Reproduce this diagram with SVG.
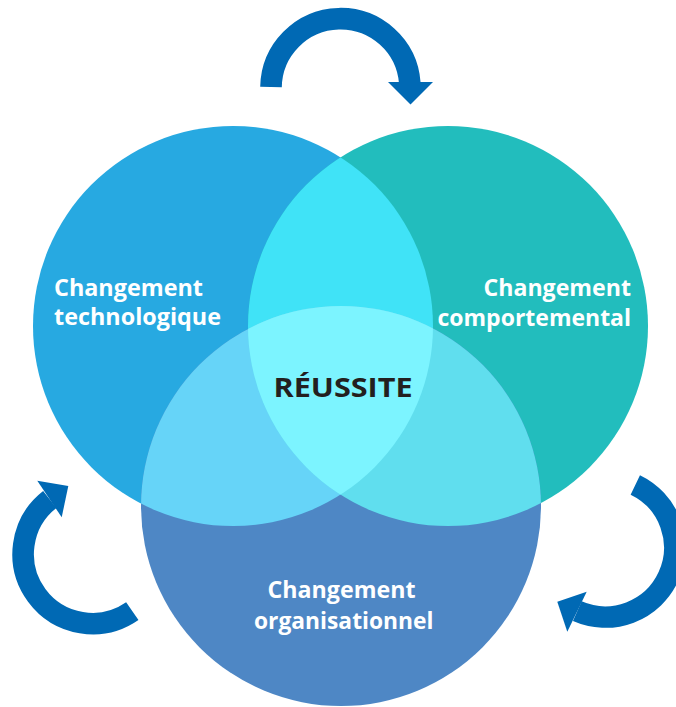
<svg xmlns="http://www.w3.org/2000/svg" width="676" height="707" viewBox="0 0 676 707">
  <style>
    .lbl { font-family: "Open Sans", "Liberation Sans", sans-serif; font-weight: 700; font-size: 22.5px; fill: #ffffff; }
    .ctr { font-family: "Open Sans", "Liberation Sans", sans-serif; font-weight: 700; font-size: 26px; fill: #231f20; }
    .arc { fill: none; stroke: #0069b4; stroke-width: 21.6; stroke-linecap: butt; }
    .head { fill: #0069b4; }
  </style>
  <defs>
    <clipPath id="cL"><circle cx="233" cy="326" r="200"/></clipPath>
    <clipPath id="cR"><circle cx="448" cy="326" r="200"/></clipPath>
    <clipPath id="cB"><circle cx="341" cy="506" r="200"/></clipPath>
  </defs>

  <g id="tech">
    <circle cx="233" cy="326" r="200" fill="#27a9e1"/>
  </g>
  <g id="comport">
    <circle cx="448" cy="326" r="200" fill="#22bdbd"/>
  </g>
  <g id="orga">
    <circle cx="341" cy="506" r="200" fill="#4e87c5"/>
  </g>
  <g id="overlaps">
    <g clip-path="url(#cL)"><circle cx="448" cy="326" r="200" fill="#40e3f7"/></g>
    <g clip-path="url(#cL)"><circle cx="341" cy="506" r="200" fill="#66d4f8"/></g>
    <g clip-path="url(#cR)"><circle cx="341" cy="506" r="200" fill="#60deee"/></g>
    <g clip-path="url(#cL)"><g clip-path="url(#cR)"><circle cx="341" cy="506" r="200" fill="#7cf4ff"/></g></g>
  </g>

  <g id="labels">
    <text class="lbl" x="54" y="295.5" textLength="149" lengthAdjust="spacingAndGlyphs">Changement</text>
    <text class="lbl" x="54" y="324.5" textLength="167" lengthAdjust="spacingAndGlyphs">technologique</text>
    <text class="lbl" x="483.5" y="295.5" textLength="147.5" lengthAdjust="spacingAndGlyphs">Changement</text>
    <text class="lbl" x="437.5" y="325.5" textLength="193.5" lengthAdjust="spacingAndGlyphs">comportemental</text>
    <text class="lbl" x="267.5" y="597.5" textLength="148" lengthAdjust="spacingAndGlyphs">Changement</text>
    <text class="lbl" x="254" y="629" textLength="179.5" lengthAdjust="spacingAndGlyphs">organisationnel</text>
  </g>
  <g id="success">
    <text class="ctr" x="273.5" y="396.7" textLength="139" lengthAdjust="spacingAndGlyphs">RÉUSSITE</text>
  </g>

  <g id="connectors">
    <path class="arc" d="M 271,87 A 69.5,69.5 0 0 1 409.8,83"/>
    <polygon class="head" points="388,82 433,82 410.5,104.5"/>
    <path class="arc" d="M 132.3,611.2 A 69.5,69.5 0 0 1 49.8,499.4"/>
    <polygon class="head" points="37.3,480.7 68.3,486 61.7,517.3"/>
    <path class="arc" d="M 635.3,484.9 A 69.5,69.5 0 0 1 577.3,611.2"/>
    <polygon class="head" points="586.7,591.7 557.3,601.7 567.3,631.7"/>
  </g>
</svg>
